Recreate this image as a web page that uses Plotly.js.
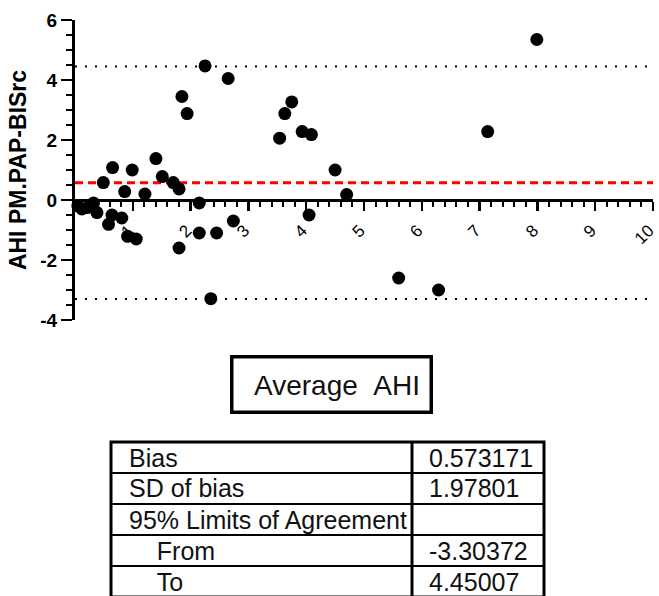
<!DOCTYPE html>
<html><head><meta charset="utf-8">
<script src="https://cdn.plot.ly/plotly-3.0.1.min.js"></script>
<style>html,body{margin:0;padding:0;background:#fff}#chart{width:659px;height:596px}</style>
</head><body><div id="chart"></div>
<script>
// Bland-Altman data: average AHI (x) vs difference PM.PAP - BISrc (y)
const avgAHI = [0.05,0.12,0.22,0.32,0.38,0.49,0.65,0.58,0.64,0.81,0.86,0.99,0.91,1.06,1.21,1.40,1.51,1.70,1.80,1.80,1.85,1.94,2.15,2.15,2.25,2.35,2.45,2.65,2.74,3.54,3.63,3.75,3.93,4.09,4.05,4.50,4.70,5.60,6.29,7.14,7.99];
const diffAHI = [-0.20,-0.30,-0.25,-0.10,-0.42,0.58,1.08,-0.81,-0.50,-0.60,0.28,1.00,-1.21,-1.30,0.20,1.38,0.78,0.58,0.37,-1.60,3.45,2.88,-0.10,-1.10,4.47,-3.29,-1.10,4.05,-0.70,2.06,2.88,3.27,2.28,2.18,-0.50,1.00,0.18,-2.60,-3.00,2.28,5.35];

const bias = 0.573171;
const sdBias = 1.97801;
const loaFrom = -3.30372;
const loaTo = 4.45007;

const statLabels = ['Bias','SD of bias','95% Limits of Agreement','\u00a0\u00a0\u00a0\u00a0From','\u00a0\u00a0\u00a0\u00a0To'];
const statValues = [bias, sdBias, null, loaFrom, loaTo];

const xTickVals = [0,1,2,3,4,5,6,7,8,9,10];
const xTickText = ['','1','2','3','4','5','6','7','8','9','10'];
const yTickVals = [-4,-2,0,2,4,6];
const yTickText = ['-4','-2','0','2','4','6'];

// pixel -> paper helpers (plot area: x 75..653, y 20..320)
const L=75, R=653, TOP=20, BOT=320;
const pxX = p => (p - L)/(R - L);
const pxY = p => (BOT - p)/(BOT - TOP);

const FONT = 'Liberation Sans, Arial, sans-serif';

const traces = [
  {x:[0,10], y:[loaTo,loaTo], mode:'lines', line:{color:'black', width:2, dash:'2px,8px'}, hoverinfo:'skip'},
  {x:[0,10], y:[loaFrom,loaFrom], mode:'lines', line:{color:'black', width:2, dash:'2px,8px'}, hoverinfo:'skip'},
  {x:[0,10], y:[bias,bias], mode:'lines', line:{color:'#ff0000', width:3, dash:'8px,5px'}, hoverinfo:'skip'},
  {x:avgAHI, y:diffAHI, mode:'markers', marker:{color:'black', size:13}, cliponaxis:false}
];

// table
const tLeft=111, tRight=544, tDiv=412, tTop=442, rowH=31;
const shapes = [];
const annotations = [];
statLabels.forEach((lab,i)=>{
  const yc = tTop + rowH*i + rowH/2;
  annotations.push({xref:'paper', yref:'paper', x:pxX(tLeft+16), y:pxY(yc), xanchor:'left', yanchor:'middle', text:lab, showarrow:false, font:{family:FONT, size:25, color:'#111'}});
  if (statValues[i] !== null) {
    annotations.push({xref:'paper', yref:'paper', x:pxX(tDiv+15), y:pxY(yc), xanchor:'left', yanchor:'middle', text:String(statValues[i]), showarrow:false, font:{family:FONT, size:25, color:'#111'}});
  }
  if (i>0) shapes.push({type:'line', xref:'paper', yref:'paper', x0:pxX(tLeft), x1:pxX(tRight), y0:pxY(tTop+rowH*i), y1:pxY(tTop+rowH*i), line:{color:'black', width:2}});
});
shapes.push({type:'rect', xref:'paper', yref:'paper', x0:pxX(tLeft), x1:pxX(tRight), y0:pxY(tTop+rowH*statLabels.length), y1:pxY(tTop), line:{color:'black', width:3}});
shapes.push({type:'line', xref:'paper', yref:'paper', x0:pxX(tDiv), x1:pxX(tDiv), y0:pxY(tTop+rowH*statLabels.length), y1:pxY(tTop), line:{color:'black', width:3}});

// x title box
shapes.push({type:'rect', xref:'paper', yref:'paper', x0:pxX(231.75), x1:pxX(431.25), y0:pxY(412.25), y1:pxY(356.75), line:{color:'black', width:3.5}});
annotations.push({xref:'paper', yref:'paper', x:pxX(336.5), y:pxY(385), xanchor:'center', yanchor:'middle', text:'Average\u00a0\u00a0AHI', showarrow:false, font:{family:FONT, size:28, color:'#111'}});

const layout = {
  width:659, height:596,
  margin:{l:L, r:659-R, t:TOP, b:596-BOT, pad:0},
  paper_bgcolor:'white', plot_bgcolor:'white',
  showlegend:false, hovermode:false,
  font:{family:FONT, color:'black'},
  xaxis:{
    range:[0,10], anchor:'free', position:0.4,
    showline:true, linewidth:3, linecolor:'black',
    tickmode:'array', tickvals:xTickVals, ticktext:xTickText,
    ticks:'outside', ticklen:9, tickwidth:2.5, tickcolor:'black',
    tickangle:-45, tickfont:{family:FONT, size:17, color:'black'},
    ticklabelstandoff:3, ticklabelshift:-4, ticklabeloverflow:'allow',
    minor:{tickmode:'linear', tick0:0, dtick:0.2, ticks:'outside', ticklen:5, tickwidth:2, tickcolor:'black', showgrid:false},
    showgrid:false, zeroline:false, layer:'below traces', automargin:false
  },
  yaxis:{
    range:[-4,6], tickmode:'array', tickvals:yTickVals, ticktext:yTickText,
    showline:true, linewidth:3, linecolor:'black',
    ticks:'outside', ticklen:11, tickwidth:2.5, tickcolor:'black',
    tickfont:{family:FONT, size:19, color:'black', weight:700},
    minor:{tickmode:'linear', tick0:0, dtick:0.5, ticks:'outside', ticklen:6, tickwidth:2, tickcolor:'black', showgrid:false},
    showgrid:false, zeroline:false, layer:'below traces', automargin:false,
    title:{text:'AHI PM.PAP-BISrc', font:{family:FONT, size:23, color:'black', weight:700}, standoff:8}
  },
  shapes:shapes, annotations:annotations
};

Plotly.newPlot('chart', traces, layout, {staticPlot:true, displayModeBar:false});
</script>
</body></html>
